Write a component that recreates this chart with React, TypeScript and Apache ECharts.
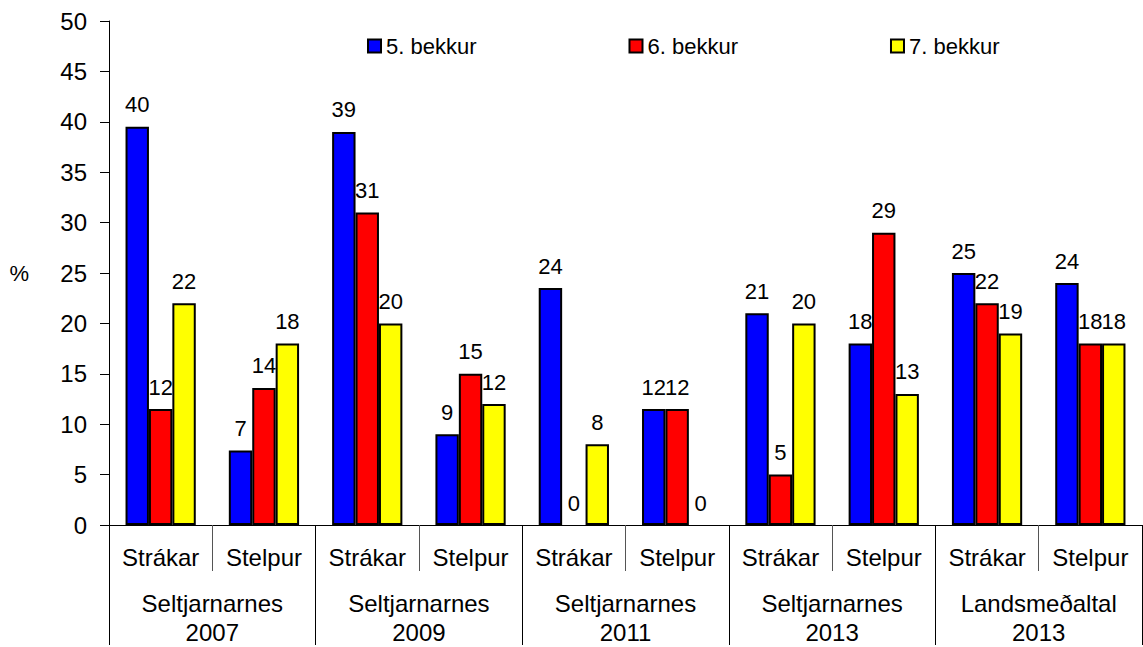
import React, { useEffect, useRef } from "react";
import * as echarts from "echarts";

const subCategories = ["Strákar", "Stelpur", "Strákar", "Stelpur", "Strákar", "Stelpur", "Strákar", "Stelpur", "Strákar", "Stelpur"];
const groups = ["Seltjarnarnes\n2007", "Seltjarnarnes\n2009", "Seltjarnarnes\n2011", "Seltjarnarnes\n2013", "Landsmeðaltal\n2013"];
const seriesNames = ["5. bekkur", "6. bekkur", "7. bekkur"];
const bekkur5 = [39.5, 7.4, 39, 9, 23.5, 11.5, 21, 18, 25, 24];
const bekkur6 = [11.5, 13.6, 31, 15, 0, 11.5, 5, 29, 22, 18];
const bekkur7 = [22, 18, 20, 12, 8, 0, 20, 13, 19, 18];
const colors = ["#0000FF", "#FF0000", "#FFFF00"];
const yTicks = { min: 0, max: 50, interval: 5 };

const FONT = "'Liberation Sans', Arial, sans-serif";

export default function App() {
  const ref = useRef<HTMLDivElement>(null);
  useEffect(() => {
    if (!ref.current) return;
    const chart = echarts.init(ref.current, null, { renderer: "svg" });
    const all = [bekkur5, bekkur6, bekkur7];
    chart.setOption({
      animation: false,
      textStyle: { fontFamily: FONT },
      legend: {
        top: 35,
        left: 367,
        padding: 0,
        itemWidth: 13,
        itemHeight: 13,
        itemGap: 152,
        icon: "rect",
        textStyle: { fontFamily: FONT, fontSize: 22, color: "#000" },
        data: seriesNames,
      },
      grid: { left: 109, right: 1, top: 21, bottom: 116, containLabel: false },
      xAxis: [
        {
          type: "category",
          data: subCategories,
          position: "bottom",
          offset: 0,
          axisLine: { show: true, lineStyle: { color: "#000", width: 1 } },
          axisTick: { show: true, length: 46, interval: 0, lineStyle: { color: "#555" } },
          axisLabel: { interval: 0, margin: 20, color: "#000", fontSize: 24, fontFamily: FONT },
        },
        {
          type: "category",
          data: groups,
          position: "bottom",
          offset: 0,
          axisLine: { show: false },
          axisTick: { show: true, length: 120, interval: 0, lineStyle: { color: "#000" } },
          axisLabel: { interval: 0, margin: 64, color: "#000", fontSize: 24, lineHeight: 29, fontFamily: FONT },
        },
      ],
      yAxis: {
        type: "value",
        min: yTicks.min,
        max: yTicks.max,
        interval: yTicks.interval,
        name: "%",
        nameLocation: "middle",
        nameRotate: 0,
        nameGap: 80,
        nameTextStyle: { fontSize: 22, color: "#000", fontFamily: FONT },
        axisLine: { show: true, lineStyle: { color: "#000", width: 1 } },
        axisTick: { show: true, length: 9, lineStyle: { color: "#000" } },
        splitLine: { show: false },
        axisLabel: { margin: 22, color: "#000", fontSize: 24, fontFamily: FONT },
      },
      series: seriesNames.map((name, i) => ({
        name,
        type: "bar",
        xAxisIndex: 0,
        barGap: "0%",
        barCategoryGap: "32%",
        itemStyle: { color: colors[i], borderColor: "#000", borderWidth: 2 },
        label: {
          show: true,
          position: "top",
          distance: 11,
          color: "#000",
          fontSize: 22,
          fontFamily: FONT,
          formatter: (p: any) => String(Math.round(p.value)),
        },
        data: all[i].map((v) => (v === 0 ? { value: 0, itemStyle: { borderWidth: 0 } } : v)),
      })),
    });
    return () => chart.dispose();
  }, []);
  return <div ref={ref} style={{ width: 1143, height: 647, position: "absolute", left: 0, top: 0 }} />;
}
